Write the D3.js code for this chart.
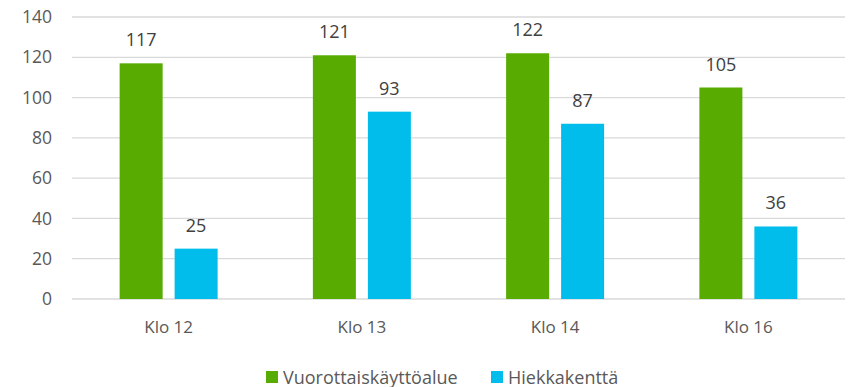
<!DOCTYPE html>
<html>
<head>
<meta charset="utf-8">
<script src="https://cdn.jsdelivr.net/npm/d3@7"></script>
<style>
  body { margin: 0; background: #fff; }
  svg { display: block; font-family: "Open Sans", sans-serif; }
</style>
</head>
<body>
<svg id="chart" width="849" height="387"></svg>
<script>
const categories = ["Klo 12", "Klo 13", "Klo 14", "Klo 16"];
const seriesNames = ["Vuorottaiskäyttöalue", "Hiekkakenttä"];
const vuorottais = [117, 121, 122, 105];
const hiekka = [25, 93, 87, 36];
const yTicks = [0, 20, 40, 60, 80, 100, 120, 140];
const colors = ["#58AB00", "#00BDEB"];

const FONT = "'Open Sans', sans-serif";
const svg = d3.select("#chart");
const plotLeft = 72, plotRight = 845;

const x = d3.scaleBand().domain(categories).range([plotLeft, plotRight]).paddingInner(0).paddingOuter(0);
const xs = d3.scaleBand().domain(seriesNames).range([0, x.bandwidth()]).paddingInner(0.218).paddingOuter(0.866);
const y = d3.scaleLinear().domain([0, 140]).range([299, 17]);

// horizontal gridlines
svg.append("g").selectAll("line").data(yTicks).join("line")
  .attr("x1", plotLeft).attr("x2", plotRight)
  .attr("y1", d => y(d)).attr("y2", d => y(d))
  .attr("stroke", "#d9d9d9").attr("stroke-width", 1.3);

// value axis labels
const yAxis = d3.axisLeft(y).tickValues(yTicks).tickSize(0).tickPadding(0);
const ya = svg.append("g").attr("transform", "translate(52,0)").call(yAxis);
ya.select(".domain").remove();
ya.selectAll("text").attr("fill", "#595959").style("font-size", "17.5px").style("font-family", FONT);

// category labels
const xAxis = d3.axisBottom(x).tickSize(0).tickPadding(0);
const xa = svg.append("g").call(xAxis);
xa.select(".domain").remove();
xa.selectAll("text").attr("dy", null).attr("y", 333).attr("fill", "#595959")
  .style("font-size", "17px").style("font-family", FONT);

const data = categories.map((c, i) => ({ cat: c, vals: [vuorottais[i], hiekka[i]] }));

const groups = svg.append("g").selectAll("g").data(data).join("g")
  .attr("transform", d => `translate(${x(d.cat)},0)`);

const items = d => d.vals.map((v, j) => ({ name: seriesNames[j], v, j }));

groups.selectAll("rect").data(items).join("rect")
  .attr("x", d => xs(d.name)).attr("width", xs.bandwidth())
  .attr("y", d => y(d.v)).attr("height", d => y(0) - y(d.v))
  .attr("fill", d => colors[d.j]);

groups.selectAll("text.val").data(items).join("text").attr("class", "val")
  .attr("x", d => xs(d.name) + xs.bandwidth() / 2)
  .attr("y", d => y(d.v) - 17)
  .attr("text-anchor", "middle")
  .attr("fill", "#404040").style("font-size", "18px")
  .text(d => d.v);

// legend
const legendX = [266, 491];
const lg = svg.append("g").selectAll("g").data(seriesNames).join("g")
  .attr("transform", (d, i) => `translate(${legendX[i]},371)`);
lg.append("rect").attr("width", 12).attr("height", 12).attr("fill", (d, i) => colors[i]);
lg.append("text").attr("x", 17).attr("y", 12.5).attr("fill", "#595959").style("font-size", "18px").text(d => d);
</script>
</body>
</html>
